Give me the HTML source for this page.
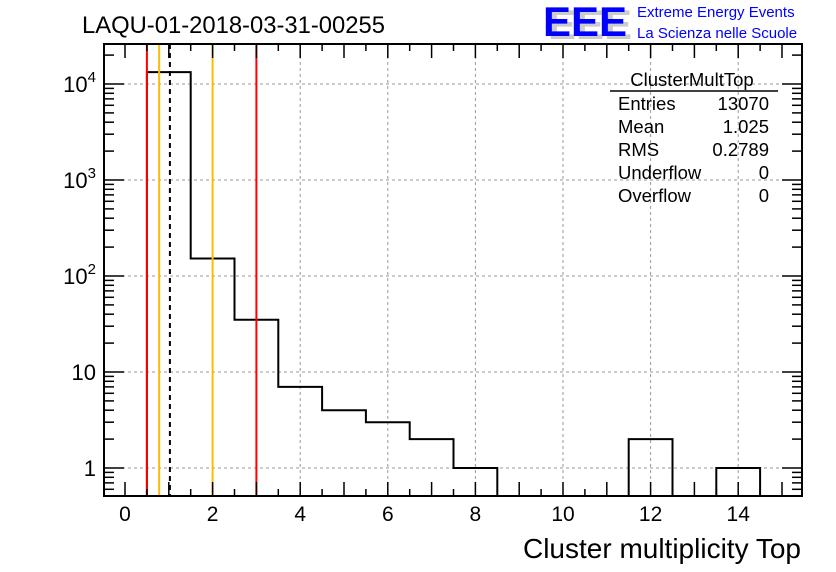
<!DOCTYPE html>
<html><head><meta charset="utf-8"><style>
body{margin:0;background:#fff;}
svg{display:block;font-family:"Liberation Sans",sans-serif;}
</style></head><body>
<svg id="c" width="836" height="572" xmlns="http://www.w3.org/2000/svg">
<text x="82" y="33" font-size="23.8">LAQU-01-2018-03-31-00255</text>
<g>
<text x="548" y="39" font-size="42" font-weight="bold" fill="#ccc">EEE</text>
<text x="543" y="36" font-size="42" font-weight="bold" fill="#0000ff">EEE</text>
<text x="637" y="17" font-size="15" fill="#0000ff">Extreme Energy Events</text>
<text x="637" y="38" font-size="15" fill="#0000ff">La Scienza nelle Scuole</text>
</g>
<g id="grid"></g><g id="marks"></g><g id="axes"></g>
<g font-size="18.5">
<text x="692" y="86" text-anchor="middle">ClusterMultTop</text>
<line x1="610" y1="91" x2="778" y2="91" stroke="#000" stroke-width="1.5"/>
<text x="618" y="110">Entries</text><text x="769" y="110" text-anchor="end">13070</text>
<text x="618" y="133">Mean</text><text x="769" y="133" text-anchor="end">1.025</text>
<text x="618" y="156">RMS</text><text x="769" y="156" text-anchor="end">0.2789</text>
<text x="618" y="179">Underflow</text><text x="769" y="179" text-anchor="end">0</text>
<text x="618" y="202">Overflow</text><text x="769" y="202" text-anchor="end">0</text>
</g>
<text x="801" y="558" font-size="28" text-anchor="end">Cluster multiplicity Top</text>
</svg>
<script>
const binCenters=[1,2,3,4,5,6,7,8,9,10,11,12,13,14];
const counts=[13300,152,35,7,4,3,2,1,0,0,0,2,0,1];
const xTicks=[0,2,4,6,8,10,12,14];
const yTicks=[1,10,100,1000,10000];
const yTickBase=["1","10","10","10","10"];
const yTickExp=["","","2","3","4"];
const redLines=[0.5,3];
const orangeLines=[0.78,2];
const meanLine=[1.025];
const L=104,R=802,T=44,B=496;
const X=v=>125+v*43.8;
const Y=v=>468-Math.log10(v)*96;
const NS="http://www.w3.org/2000/svg";
function mk(p,t,a){const e=document.createElementNS(NS,t);for(const k in a)e.setAttribute(k,a[k]);(typeof p==='string'?document.getElementById(p):p).appendChild(e);return e;}
for(let v=2;v<=14;v+=2){const x=X(v);const g=mk('grid','line',{x1:x,y1:T,x2:x,y2:B,stroke:'#999','stroke-dasharray':'3,3'});

}
yTicks.forEach(v=>{const g=mk('grid','line',{x1:L,y1:Y(v),x2:R,y2:Y(v),stroke:'#999','stroke-dasharray':'3,3'});

});
let d='';let prev=null;
binCenters.forEach((c,i)=>{const x0=X(c-0.5),x1=X(c+0.5);const y=counts[i]>0?Y(counts[i]):B;
if(prev===null)d+=`M${x0},${B}L${x0},${y}`;else d+=`L${x0},${y}`;d+=`L${x1},${y}`;prev=y;});
d+=`L${X(binCenters[binCenters.length-1]+0.5)},${B}`;
const h=mk('marks','path',{d:d,fill:'none',stroke:'#000','stroke-width':2});


redLines.forEach(v=>{const l=mk('marks','line',{x1:X(v),y1:T,x2:X(v),y2:B,stroke:'#ff0000','stroke-width':2});

});
orangeLines.forEach(v=>{const l=mk('marks','line',{x1:X(v),y1:T,x2:X(v),y2:B,stroke:'#ffbb00','stroke-width':2});

});
meanLine.forEach(v=>{const l=mk('marks','line',{x1:X(v),y1:T,x2:X(v),y2:B,stroke:'#000','stroke-width':2,'stroke-dasharray':'5,4'});

});
const f=mk('axes','rect',{x:L,y:T,width:R-L,height:B-T,fill:'none',stroke:'#000','stroke-width':2});


for(let k=-1;k<=32;k++){const v=k/2;const x=X(v);if(x<L+1||x>R-1)continue;const len=(k%2===0)?14:7;
mk('axes','line',{x1:x,y1:B,x2:x,y2:B-len,stroke:'#000','stroke-width':1.5});
mk('axes','line',{x1:x,y1:T,x2:x,y2:T+len,stroke:'#000','stroke-width':1.5});}
xTicks.forEach(v=>{const t=mk('axes','text',{x:X(v),y:521,'font-size':21,'text-anchor':'middle'});t.textContent=v;

});
for(let e=-1;e<=4;e++)for(let m=1;m<10;m++){const v=m*Math.pow(10,e);const y=Y(v);if(y<T+1||y>B-1)continue;const len=m===1?20:10;
mk('axes','line',{x1:L,y1:y,x2:L+len,y2:y,stroke:'#000','stroke-width':1.5});
mk('axes','line',{x1:R,y1:y,x2:R-len,y2:y,stroke:'#000','stroke-width':1.5});}
yTicks.forEach((v,i)=>{const t=mk('axes','text',{x:96,y:Y(v)+8,'font-size':22,'text-anchor':'end'});


const b=mk(t,'tspan',{});b.textContent=yTickBase[i];
if(yTickExp[i]){const s=mk(t,'tspan',{'font-size':15,dy:-10});s.textContent=yTickExp[i];}});
</script>
</body></html>
